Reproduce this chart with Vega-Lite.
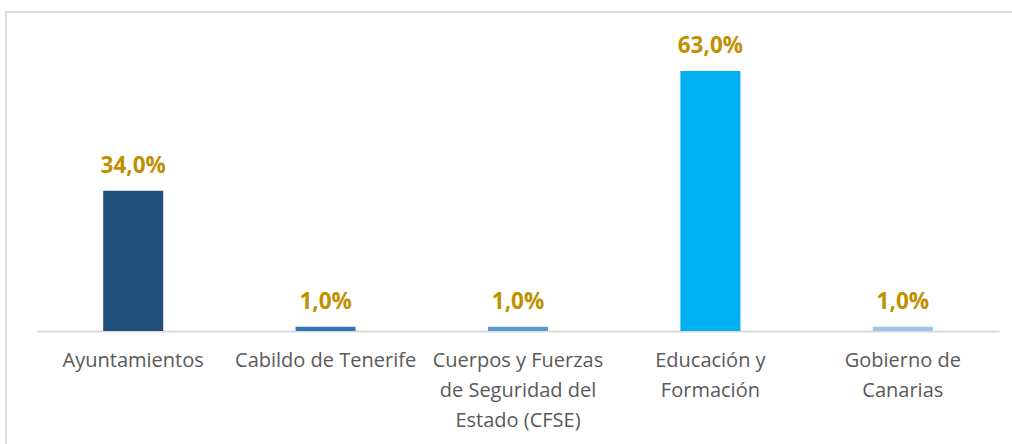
{
  "$schema": "https://vega.github.io/schema/vega-lite/v6.json",
  "width": 1010,
  "height": 440,
  "autosize": "none",
  "padding": {"left": 6, "top": 12, "right": 0, "bottom": 0},
  "background": "white",
  "config": {
    "locale": {"number": {"decimal": ",", "thousands": ".", "grouping": [3], "currency": ["", " €"]}},
    "view": {"stroke": "#D9D9D9", "strokeWidth": 2},
    "font": "Open Sans"
  },
  "data": {
    "values": [
      {"cat": "Ayuntamientos", "v": 0.34},
      {"cat": "Cabildo de Tenerife", "v": 0.01},
      {"cat": "Cuerpos y Fuerzas de Seguridad del Estado (CFSE)", "v": 0.01},
      {"cat": "Educación y Formación", "v": 0.63},
      {"cat": "Gobierno de Canarias", "v": 0.01}
    ]
  },
  "encoding": {
    "x": {
      "field": "cat",
      "type": "nominal",
      "sort": null,
      "scale": {"range": [31, 993], "paddingInner": 0, "paddingOuter": 0},
      "axis": {
        "title": null,
        "offset": -121,
        "labelAngle": 0,
        "domainColor": "#D9D9D9",
        "domainWidth": 2,
        "ticks": false,
        "labelFont": "Open Sans",
        "labelFontSize": 20,
        "labelColor": "#595959",
        "labelPadding": 29,
        "labelLineHeight": 30,
        "labelBaseline": "middle",
        "labelLimit": 300,
        "labelExpr": "datum.label == 'Cuerpos y Fuerzas de Seguridad del Estado (CFSE)' ? ['Cuerpos y Fuerzas', 'de Seguridad del', 'Estado (CFSE)'] : datum.label == 'Educación y Formación' ? ['Educación y', 'Formación'] : datum.label == 'Gobierno de Canarias' ? ['Gobierno de', 'Canarias'] : datum.label"
      }
    },
    "y": {
      "field": "v",
      "type": "quantitative",
      "scale": {"domain": [0, 0.773], "range": [319, 0], "nice": false, "zero": true},
      "axis": null
    }
  },
  "layer": [
    {
      "mark": {"type": "bar", "size": 60},
      "encoding": {
        "color": {
          "field": "cat",
          "type": "nominal",
          "sort": null,
          "legend": null,
          "scale": {"range": ["#1F4E79", "#2E75B6", "#5B9BD5", "#00B0F0", "#9DC3E6"]}
        }
      }
    },
    {
      "mark": {"type": "text", "dy": -18, "baseline": "alphabetic", "align": "center", "fontWeight": "bold", "fontSize": 22.5, "color": "#BF9000", "font": "Open Sans"},
      "encoding": {
        "text": {"field": "v", "type": "quantitative", "format": ".1%"}
      }
    }
  ]
}
